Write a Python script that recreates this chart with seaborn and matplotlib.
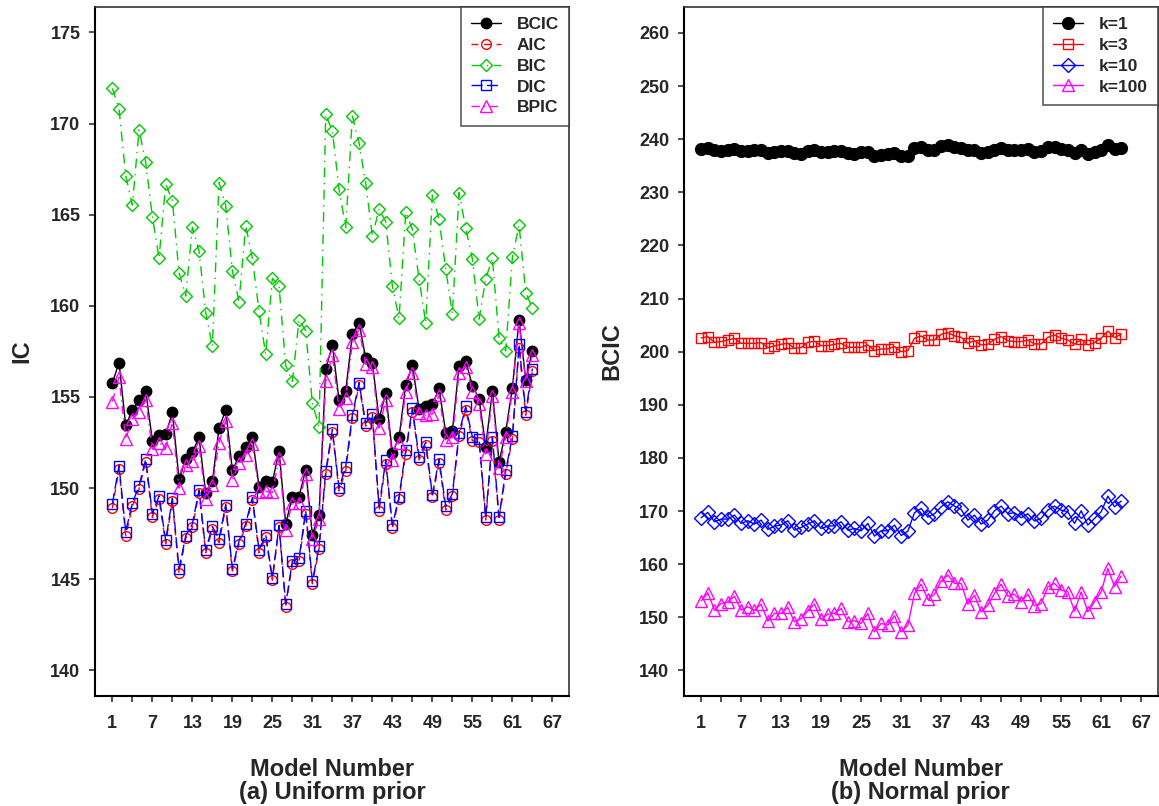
import numpy as np
import pandas as pd
import matplotlib
matplotlib.use("Agg")
import matplotlib.pyplot as plt
import matplotlib.ticker as ticker
import seaborn as sns

# номера моделей
models = list(range(1, 65))

# (a) равномерное априорное
bcic = [155.76, 156.89, 153.44, 154.29, 154.84, 155.35, 152.60, 152.92, 152.95, 154.15,
        150.51, 151.61, 151.97, 152.78, 149.73, 150.37, 153.29, 154.29, 150.97, 151.77,
        152.23, 152.80, 150.09, 150.37, 150.33, 152.05, 148.04, 149.54, 149.54, 151.01,
        147.44, 148.54, 156.52, 157.86, 154.81, 155.35, 158.44, 159.08, 157.13, 156.89,
        153.80, 155.21, 151.92, 152.78, 155.67, 156.73, 154.33, 154.48, 154.60, 155.48,
        153.05, 153.14, 156.71, 156.98, 155.62, 154.90, 152.28, 155.35, 151.41, 153.10,
        155.50, 159.23, 155.94, 157.55]
aic = [148.90, 151.05, 147.40, 149.00, 149.95, 151.45, 148.40, 149.40, 146.95, 149.30,
       145.35, 147.25, 147.85, 149.75, 146.45, 147.75, 147.00, 148.95, 145.45, 146.95,
       147.90, 149.35, 146.45, 147.30, 144.95, 147.85, 143.50, 145.85, 146.00, 148.60,
       144.75, 146.65, 150.75, 153.10, 149.85, 150.95, 153.85, 155.65, 153.40, 153.90,
       148.75, 151.35, 147.80, 149.40, 151.90, 154.20, 151.55, 152.35, 149.50, 151.40,
       148.80, 149.55, 152.85, 154.30, 152.60, 152.55, 148.25, 152.60, 148.25, 150.80,
       152.70, 157.70, 154.00, 156.40]
bic = [171.93, 170.80, 167.14, 165.53, 169.65, 167.87, 164.89, 162.61, 166.68, 165.77,
       161.82, 160.54, 164.31, 163.03, 159.63, 157.77, 166.76, 165.50, 161.93, 160.23,
       164.40, 162.61, 159.69, 157.35, 161.51, 161.09, 156.73, 155.85, 159.25, 158.63,
       154.66, 153.38, 170.50, 169.59, 166.39, 164.31, 170.41, 168.95, 166.72, 163.83,
       165.30, 164.62, 161.09, 159.32, 165.13, 164.20, 161.46, 159.08, 166.08, 164.75,
       162.02, 159.56, 166.21, 164.25, 162.57, 159.27, 161.48, 162.61, 158.22, 157.53,
       162.66, 164.44, 160.73, 159.87]
dic = [149.14, 151.24, 147.62, 149.18, 150.13, 151.59, 148.59, 149.58, 147.13, 149.45,
       145.56, 147.39, 148.03, 149.90, 146.60, 147.90, 147.20, 149.10, 145.58, 147.11,
       148.05, 149.49, 146.60, 147.45, 145.07, 147.96, 143.64, 146.00, 146.15, 148.77,
       144.89, 146.80, 150.92, 153.23, 150.00, 151.18, 154.02, 155.79, 153.56, 154.07,
       148.97, 151.53, 147.96, 149.54, 152.07, 154.39, 151.70, 152.53, 149.63, 151.59,
       149.00, 149.70, 153.02, 154.48, 152.80, 152.69, 148.40, 152.80, 148.40, 150.97,
       152.84, 157.89, 154.20, 156.56]
bpic = [154.75, 156.09, 152.69, 153.80, 154.15, 154.84, 152.14, 152.50, 152.20, 153.60,
        150.00, 151.28, 151.50, 152.30, 149.42, 150.20, 152.50, 153.70, 150.42, 151.37,
        151.83, 152.42, 149.77, 149.82, 149.77, 151.65, 147.72, 149.20, 149.20, 150.80,
        147.20, 148.30, 155.85, 157.31, 154.33, 154.97, 157.99, 158.68, 156.82, 156.67,
        153.29, 154.81, 151.57, 152.50, 155.30, 156.34, 154.11, 154.00, 154.06, 155.12,
        152.65, 152.78, 156.34, 156.67, 155.30, 154.60, 151.88, 155.03, 151.10, 152.80,
        155.30, 159.05, 155.85, 157.31]

# (b) нормальное априорное, BCIC при разных k
k1 = [238.24, 238.37, 237.87, 237.80, 237.99, 238.12, 237.74, 237.68, 237.87, 237.93,
      237.36, 237.49, 237.68, 237.80, 237.36, 237.24, 237.68, 237.99, 237.55, 237.49,
      237.68, 237.80, 237.36, 237.24, 237.49, 237.61, 236.92, 237.05, 237.18, 237.36,
      236.74, 236.86, 238.30, 238.49, 237.99, 237.99, 238.62, 238.81, 238.43, 238.30,
      237.87, 237.99, 237.36, 237.49, 237.99, 238.30, 237.99, 237.87, 237.99, 238.12,
      237.55, 237.68, 238.43, 238.49, 238.18, 237.99, 237.36, 237.99, 237.24, 237.55,
      237.99, 238.93, 238.18, 238.30]
k3 = [202.59, 202.84, 201.77, 201.90, 202.20, 202.50, 201.58, 201.58, 201.58, 201.70,
      200.77, 201.08, 201.40, 201.58, 200.64, 200.77, 201.77, 201.96, 201.14, 201.14,
      201.40, 201.58, 200.83, 200.83, 200.83, 201.27, 200.20, 200.52, 200.52, 200.95,
      200.01, 200.20, 202.52, 202.96, 202.20, 202.20, 203.27, 203.59, 202.96, 202.71,
      201.58, 202.08, 201.27, 201.40, 202.33, 202.84, 202.08, 201.90, 201.90, 202.20,
      201.46, 201.46, 202.71, 203.15, 202.52, 202.20, 201.40, 202.33, 201.27, 201.70,
      202.52, 203.90, 202.65, 203.27]
k10 = [168.74, 169.75, 167.99, 168.49, 168.49, 169.24, 167.68, 168.18, 167.55, 168.30,
       166.54, 167.17, 167.36, 168.18, 166.42, 166.92, 167.55, 168.18, 166.73, 167.17,
       167.23, 167.99, 166.42, 166.73, 166.29, 167.68, 165.29, 166.29, 166.29, 167.36,
       165.40, 166.20, 169.69, 170.50, 168.87, 169.50, 170.81, 171.75, 170.93, 170.31,
       168.30, 169.24, 167.55, 168.30, 170.06, 170.93, 169.50, 169.69, 168.74, 169.50,
       168.12, 168.62, 170.18, 170.93, 170.18, 169.87, 167.68, 170.06, 167.36, 168.62,
       169.87, 172.82, 170.81, 171.88]
k100 = [153.11, 154.62, 151.35, 152.60, 152.90, 153.98, 151.35, 151.98, 151.35, 152.48,
        149.28, 150.73, 150.73, 151.86, 149.16, 149.78, 151.23, 152.48, 149.60, 150.60,
        150.73, 151.67, 149.16, 149.35, 148.85, 150.73, 147.27, 148.85, 148.53, 150.30,
        147.27, 148.53, 154.50, 156.25, 153.36, 154.36, 156.88, 157.95, 156.38, 156.38,
        152.48, 154.17, 151.04, 152.30, 154.50, 156.25, 153.98, 154.36, 152.92, 154.36,
        152.17, 152.60, 155.74, 156.38, 155.12, 154.80, 151.16, 154.80, 151.04, 152.92,
        154.80, 159.20, 155.80, 157.77]

sns.set_style("ticks")
plt.rcParams['font.family'] = ['Liberation Sans', 'DejaVu Sans']
plt.rcParams['font.weight'] = 'bold'

fig = plt.figure(figsize=(11.59, 8.06), dpi=100)
ax1 = fig.add_axes([0.082, 0.1365, 0.409, 0.855])
ax2 = fig.add_axes([0.590, 0.1365, 0.409, 0.855])

GREEN = '#00c800'

left_series = [
    ("BCIC", bcic, dict(color='black', marker='o', ms=7.5, mfc='black', mec='black', ls='-')),
    ("AIC", aic, dict(color='red', marker='o', ms=7, mfc='none', mec='red', ls=(0, (5, 4)))),
    ("BIC", bic, dict(color=GREEN, marker='D', ms=6.5, mfc='none', mec=GREEN, ls=(0, (7, 4, 1, 4)))),
    ("DIC", dic, dict(color='blue', marker='s', ms=6.5, mfc='none', mec='blue', ls=(0, (8, 3)))),
    ("BPIC", bpic, dict(color='magenta', marker='^', ms=8.5, mfc='none', mec='magenta', ls=(0, (6, 3, 1, 3)))),
]
right_series = [
    ("k=1", k1, dict(color='black', marker='o', ms=8.5, mfc='black', mec='black', ls='-')),
    ("k=3", k3, dict(color='red', marker='s', ms=7.5, mfc='none', mec='red', ls='-')),
    ("k=10", k10, dict(color='blue', marker='D', ms=7, mfc='none', mec='blue', ls='-')),
    ("k=100", k100, dict(color='magenta', marker='^', ms=9, mfc='none', mec='magenta', ls='-')),
]

for ax, series in [(ax1, left_series), (ax2, right_series)]:
    for name, vals, st in series:
        df = pd.DataFrame({"model": models, "value": vals})
        sns.lineplot(data=df, x="model", y="value", ax=ax, label=name,
                     lw=1.0, mew=1.0, **st)

ax1.set_ylim(138.6, 176.4)
ax1.set_yticks([140, 145, 150, 155, 160, 165, 170, 175])
ax2.set_ylim(135.2, 264.9)
ax2.set_yticks(list(range(140, 261, 10)))

for ax, ylab, xlab, pad in [(ax1, "IC", "Model Number\n(a) Uniform prior", 12.5),
                            (ax2, "BCIC", "Model Number\n(b) Normal prior", 11.5)]:
    ax.set_xlim(-1.6, 69.5)
    ax.xaxis.set_major_locator(ticker.FixedLocator(list(range(1, 68, 6))))
    ax.xaxis.set_minor_locator(ticker.FixedLocator(list(range(4, 68, 6))))
    ax.tick_params(axis='both', which='both', direction='out', length=4.5, width=1.2,
                   color='#333333', labelsize=13)
    ax.tick_params(axis='x', which='both', pad=9)
    ax.tick_params(axis='y', pad=6)
    for lab in ax.get_xticklabels() + ax.get_yticklabels():
        lab.set_fontweight('bold')
    ax.set_xlabel(xlab, fontsize=17, fontweight='bold', labelpad=19, linespacing=1.0)
    ax.set_ylabel(ylab, fontsize=17, fontweight='bold', labelpad=pad)
    for side in ['left', 'bottom']:
        ax.spines[side].set_linewidth(1.5)
        ax.spines[side].set_color('black')
    for side in ['top', 'right']:
        ax.spines[side].set_linewidth(1.2)
        ax.spines[side].set_color('#333333')
    ax.grid(False)

for ax in (ax1, ax2):
    leg = ax.legend(loc='upper right', borderaxespad=0, fontsize=12.5, frameon=True,
                    fancybox=False, handlelength=1.7, handletextpad=0.9,
                    labelspacing=0.32, borderpad=0.6)
    leg.get_frame().set_edgecolor('#333333')
    leg.get_frame().set_linewidth(1.2)
    for t in leg.get_texts():
        t.set_fontweight('bold')

fig.savefig("out.png", dpi=100)
